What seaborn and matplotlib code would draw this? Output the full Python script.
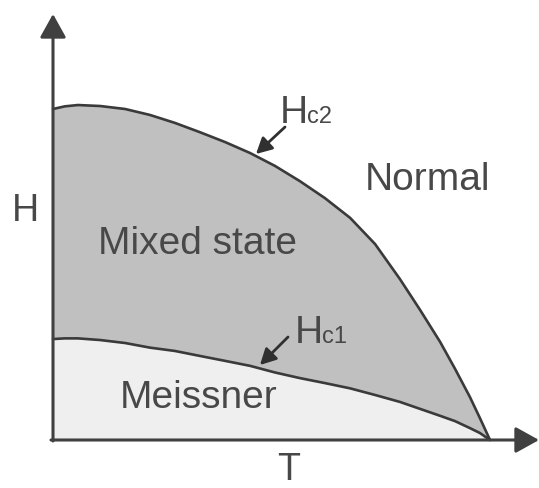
import matplotlib
matplotlib.use("Agg")
import matplotlib.pyplot as plt
import pandas as pd
import seaborn as sns

# Reduced temperature T/Tc
temperature = [0.0, 0.027, 0.057, 0.108, 0.165, 0.222, 0.279, 0.336, 0.394, 0.451, 0.508,
               0.565, 0.622, 0.680, 0.737, 0.794, 0.840, 0.886, 0.920, 0.954, 0.977, 1.0]
# Upper critical field Hc2 (units of Hc2 at T = 0)
h_c2 = [1.0, 1.008, 1.012, 1.009, 1.0, 0.982, 0.958, 0.930, 0.900, 0.867, 0.828,
        0.782, 0.731, 0.671, 0.592, 0.486, 0.393, 0.296, 0.215, 0.130, 0.066, 0.0]
# Lower critical field Hc1
h_c1 = [0.305, 0.307, 0.307, 0.302, 0.293, 0.279, 0.269, 0.254, 0.239, 0.224, 0.204,
        0.187, 0.172, 0.156, 0.136, 0.115, 0.094, 0.073, 0.057, 0.036, 0.021, 0.0]

region_labels = ["Normal", "Mixed state", "Meissner"]
axis_labels = ["T", "H"]
curve_labels = [("H", "c2"), ("H", "c1")]

df = pd.DataFrame({"T": temperature, "Hc2": h_c2, "Hc1": h_c1})

sns.set_style("white")
plt.rcParams["font.family"] = ["Liberation Sans", "DejaVu Sans"]

W, H = 539, 489
fig = plt.figure(figsize=(W / 100, H / 100), dpi=100)
ax = fig.add_axes([0, 0, 1, 1])

# origin of the diagram at pixel (53, 441); Tc spans 437 px, Hc2(0) spans 331 px
X0, Y0, SX, SY = 53, 441, 437, 331


def p(x, y):
    return (x - X0) / SX, (Y0 - y) / SY


line_col = "#3a3a3a"
text_col = "#484848"

# phase regions
ax.fill_between(df["T"], 0, df["Hc1"], color="#efefef", lw=0, zorder=1)
ax.fill_between(df["T"], df["Hc1"], df["Hc2"], color="#c0c0c0", lw=0, zorder=1)

# critical field curves
for col in ["Hc2", "Hc1"]:
    sns.lineplot(data=df, x="T", y=col, ax=ax, color=line_col, lw=1.9,
                 estimator=None, zorder=3, solid_joinstyle="round")

ax.set_axis_off()
ax.set_xlim(-X0 / SX, (W - X0) / SX)
ax.set_ylim(-(H - Y0) / SY, Y0 / SY)

# axes with arrowheads
axis_arrow = dict(arrowstyle="-|>,head_length=0.72,head_width=0.4",
                  mutation_scale=20, color="#404040", lw=2.2,
                  shrinkA=0, shrinkB=0)
ax.annotate("", xy=p(539, 441), xytext=p(51, 441), arrowprops=axis_arrow, zorder=4)
ax.annotate("", xy=p(53, 15), xytext=p(53, 442), arrowprops=axis_arrow, zorder=4)

ax.text(*p(289, 470), axis_labels[0], fontsize=27, color=text_col,
        ha="center", va="center")
ax.text(*p(25, 211), axis_labels[1], fontsize=27, color=text_col,
        ha="center", va="center")

# region names
ax.text(*p(427, 180), region_labels[0], fontsize=28, color=text_col,
        ha="center", va="center")
ax.text(*p(197, 244), region_labels[1], fontsize=28, color=text_col,
        ha="center", va="center")
ax.text(*p(199, 398), region_labels[2], fontsize=28, color=text_col,
        ha="center", va="center")

# curve labels with pointer arrows
small_arrow = dict(arrowstyle="-|>,head_length=0.95,head_width=0.5",
                   mutation_scale=10, color="#303030", lw=2.0,
                   shrinkA=0, shrinkB=0)
for (main, sub), (hx, base), tail, tip in [
    (curve_labels[0], (280, 123), (285, 128), (256, 155)),
    (curve_labels[1], (295, 343), (288, 338), (260, 366)),
]:
    ax.text(*p(hx, base), main, fontsize=28, color=text_col,
            ha="left", va="baseline")
    ax.text(*p(hx + 27, base), sub, fontsize=17, color=text_col,
            ha="left", va="baseline")
    ax.annotate("", xy=p(*tip), xytext=p(*tail), arrowprops=small_arrow, zorder=5)

fig.savefig("out.png", dpi=100, facecolor="white")
